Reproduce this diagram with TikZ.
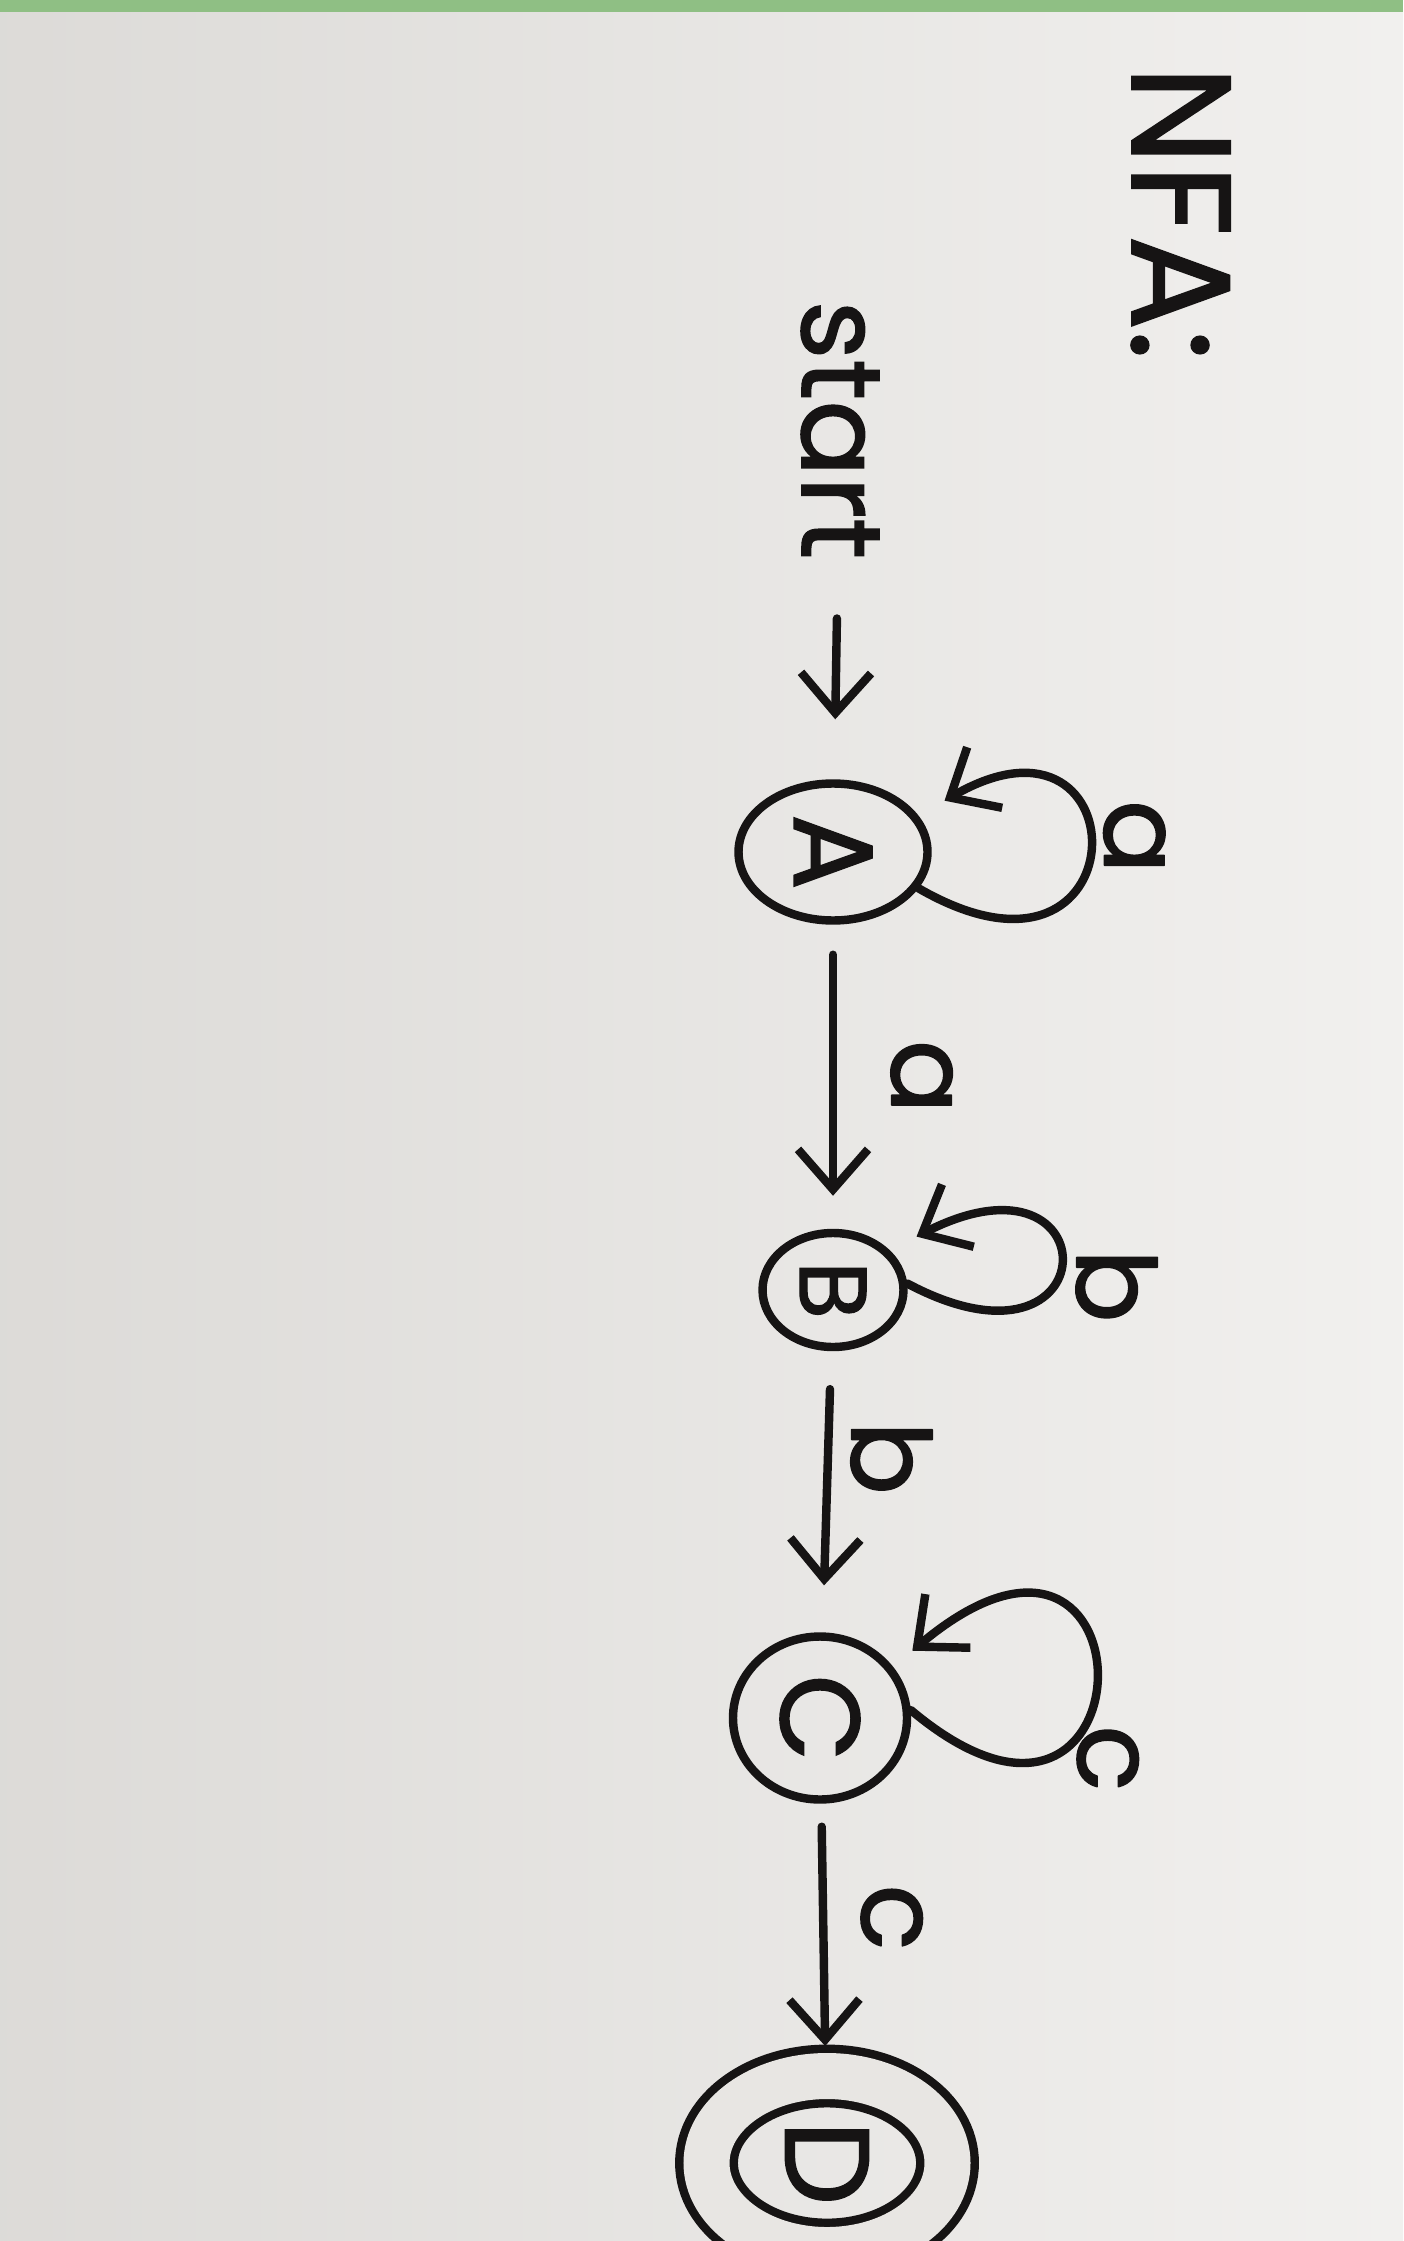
\documentclass[tikz,border=0pt]{standalone}
\usepackage{fontspec}
\setmainfont{Poppins}[FakeBold=1.4]
\usetikzlibrary{shapes.geometric,arrows.meta,positioning}

\definecolor{paper}{HTML}{E8E6E3}
\definecolor{ink}{HTML}{161414}
\definecolor{tape}{HTML}{8FBF84}

\tikzset{
  state/.style={ellipse, draw=ink, line width=2.4pt, inner sep=0pt, text=ink,
    font=\fontsize{32}{36}\selectfont},
  accepting/.style={double=paper, double distance=4.6mm},
  edge/.style={draw=ink, line width=2.4pt, line cap=round, line join=round,
    -{Straight Barb[length=4mm,width=7mm]}},
  lbl/.style={text=ink, inner sep=1pt, font=\fontsize{31}{36}\selectfont}
}

\begin{document}
\begin{tikzpicture}
\shade[use as bounding box, left color=paper!95!black, right color=paper!60!white] (0,0) rectangle (14.03,-22.41);
\clip (0,0) rectangle (14.03,-22.41);
\fill[tape] (0,0) rectangle (14.03,-0.12);
\begin{scope}[rotate=-90, transform shape]
  \node[lbl, anchor=base, font=\fontsize{40}{44}\selectfont] (title) at (2.13,11.32) {NFA:};
  \node[lbl, anchor=base, font=\fontsize{32}{36}\selectfont] (start) at (4.30,8.02) {start};

  \node[state, minimum width=1.37cm, minimum height=1.89cm] (A) at (8.52,8.33) {A};
  \node[state, minimum width=1.14cm, minimum height=1.41cm,
    font=\fontsize{27}{30}\selectfont] (B) at (12.90,8.33) {B};
  \node[state, minimum width=1.63cm, minimum height=1.74cm] (C) at (17.18,8.20) {C};
  \node[state, accepting, minimum width=1.74cm, minimum height=2.41cm,
    outer sep=3mm, font=\fontsize{34}{38}\selectfont] (D) at (21.63,8.27) {D};

  \draw[edge, shorten <=5.5mm, shorten >=6mm] (start) -- (A);
  \draw[edge, shorten <=3mm, shorten >=3.3mm] (A) -- node[lbl, above=5mm] {a} (B);
  \draw[edge, shorten <=3.8mm, shorten >=4.7mm] (B) -- node[lbl, pos=0.38, above=1.5mm] {b} (C);
  \draw[edge, shorten <=2.3mm] (C) -- node[lbl, pos=0.47, above=3mm] {c} (D);

  \draw[edge, shorten >=3mm] (A.67) .. controls +(60:2.6) and +(120:2.6) .. node[lbl, pos=0.55, above=1mm] {a} (A.113);
  \draw[edge, shorten >=3mm] (B.95) .. controls +(62:2.3) and +(117:2.5) .. node[lbl, pos=0.4, above=1.5mm] {b} (B.125);
  \draw[edge, shorten >=2.5mm] (C.95) .. controls +(50:3.2) and +(130:3.5) .. node[lbl, pos=0.25, above=2mm] {c} (C.125);
\end{scope}
\end{tikzpicture}
\end{document}
